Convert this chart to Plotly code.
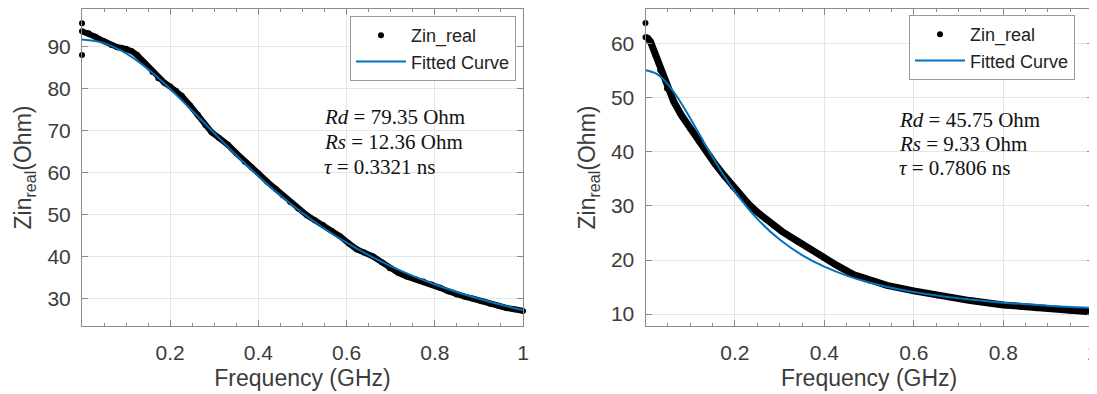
import plotly.graph_objects as go

# ---------------- data: left panel ----------------
left_freq = [0.0, 0.015, 0.03, 0.05, 0.067, 0.08, 0.09, 0.1, 0.112, 0.125, 0.143, 0.16, 0.173, 0.187,
             0.2, 0.213, 0.226, 0.245, 0.263, 0.28, 0.294, 0.31, 0.331, 0.35, 0.369, 0.385, 0.4, 0.42,
             0.44, 0.455, 0.472, 0.49, 0.51, 0.528, 0.547, 0.566, 0.585, 0.605, 0.623, 0.64, 0.66, 0.68,
             0.698, 0.717, 0.736, 0.755, 0.774, 0.793, 0.812, 0.83, 0.849, 0.868, 0.887, 0.906, 0.925,
             0.944, 0.963, 0.98, 1.0]
left_zin = [93.7, 93.2, 92.4, 91.3, 90.4, 89.9, 89.7, 89.5, 89.0, 88.0, 86.0, 84.0, 82.5, 81.4,
            80.5, 79.5, 78.3, 76.0, 73.7, 71.3, 69.6, 68.3, 66.6, 64.6, 62.6, 61.2, 59.8, 57.8,
            56.0, 54.6, 53.0, 51.4, 49.8, 48.6, 47.4, 46.1, 44.8, 43.1, 41.7, 40.9, 40.0, 38.6,
            37.2, 36.1, 35.2, 34.6, 34.0, 33.3, 32.5, 31.7, 30.9, 30.4, 29.9, 29.3, 28.7,
            28.2, 27.7, 27.4, 27.0]
left_out_freq = [0.0, 0.0]
left_out_zin = [95.6, 88.0]

left_fit_freq = [0.0, 0.05, 0.1, 0.15, 0.2, 0.25, 0.3, 0.35, 0.4, 0.45, 0.5, 0.55, 0.6, 0.65,
                 0.7, 0.75, 0.8, 0.85, 0.9, 0.95, 1.0]
left_fit_zin = [91.71, 90.86, 88.40, 84.63, 79.94, 74.74, 69.37, 64.11, 59.13, 54.53, 50.35, 46.60,
                43.27, 40.30, 37.68, 35.36, 33.31, 31.50, 29.89, 28.46, 27.18]
left_params = ["<i>Rd</i> = 79.35 Ohm", "<i>Rs</i> = 12.36 Ohm", "<i>τ</i> = 0.3321 ns"]

# ---------------- data: right panel ----------------
right_freq = [0.0, 0.005, 0.011, 0.016, 0.022, 0.033, 0.048, 0.063, 0.08, 0.1, 0.12, 0.137, 0.155,
              0.175, 0.195, 0.212, 0.23, 0.249, 0.268, 0.286, 0.305, 0.324, 0.343, 0.361, 0.38,
              0.398, 0.428, 0.465, 0.502, 0.54, 0.6, 0.651, 0.726, 0.8, 0.875, 0.949, 1.0]
right_zin = [61.2, 61.0, 60.4, 59.3, 57.9, 55.1, 51.7, 49.3, 46.8, 44.3, 41.9, 40.0, 37.8,
             35.7, 33.6, 32.0, 30.4, 28.9, 27.6, 26.4, 25.3, 24.3, 23.3, 22.4, 21.5,
             20.6, 19.0, 17.3, 16.2, 15.3, 14.3, 13.5, 12.5, 11.7, 11.1, 10.6, 10.4]
right_out_freq = [0.0]
right_out_zin = [63.8]

right_fit_freq = [0.0, 0.025, 0.05, 0.075, 0.1, 0.125, 0.15, 0.175, 0.2, 0.25, 0.3, 0.35, 0.4,
                  0.45, 0.5, 0.6, 0.7, 0.8, 0.9, 1.0]
right_fit_zin = [55.08, 54.40, 52.48, 49.63, 46.21, 42.58, 39.01, 35.67, 32.65, 27.60, 23.79,
                 20.92, 18.77, 17.12, 15.85, 14.07, 12.91, 12.12, 11.56, 11.16]
right_params = ["<i>Rd</i> = 45.75 Ohm", "<i>Rs</i> = 9.33 Ohm", "<i>τ</i> = 0.7806 ns"]

x_ticks = [0.2, 0.4, 0.6, 0.8, 1.0]
x_ticktext = ["0.2", "0.4", "0.6", "0.8", "1"]
left_yticks = [30, 40, 50, 60, 70, 80, 90]
right_yticks = [10, 20, 30, 40, 50, 60]

# ---------------- styling ----------------
PAGE_OFF = 8                     # default body margin of the html page
W, H = 1097 - PAGE_OFF + 6, 394 - PAGE_OFF   # slightly wider so the last "1" label fits in the div

def px(v):
    return (v - PAGE_OFF) / W

def py(v):
    return 1 - (v - PAGE_OFF) / H

FIT_COLOR = "#0072BD"
AXIS_COLOR = "#8a8a8a"
GRID_COLOR = "#e5e5e5"
TICK_FONT = dict(family="Liberation Sans, Arial", size=21, color="#3c3c3c")
TITLE_FONT = dict(family="Liberation Sans, Arial", size=23, color="#3c3c3c")
LEG_FONT = dict(family="Liberation Sans, Arial", size=18, color="#222222")
ANN_FONT = dict(family="Liberation Serif, Times New Roman", size=21, color="#111111")

fig = go.Figure()

panels = [
    dict(xa="x", ya="y", legend="legend", f=left_freq, z=left_zin, of=left_out_freq, oz=left_out_zin,
         ff=left_fit_freq, fz=left_fit_zin, band=6),
    dict(xa="x2", ya="y2", legend="legend2", f=right_freq, z=right_zin, of=right_out_freq, oz=right_out_zin,
         ff=right_fit_freq, fz=right_fit_zin, band=7),
]
for p in panels:
    # dense measured points form a thick band
    fig.add_trace(go.Scatter(x=p["f"], y=p["z"], mode="lines", xaxis=p["xa"], yaxis=p["ya"],
                             line=dict(color="black", width=p["band"]), showlegend=False,
                             hoverinfo="skip", legend=p["legend"]))
    fig.add_trace(go.Scatter(x=p["f"] + p["of"], y=p["z"] + p["oz"], mode="markers",
                             xaxis=p["xa"], yaxis=p["ya"], name="Zin_real",
                             marker=dict(color="black", size=6), cliponaxis=False,
                             legend=p["legend"]))
    fig.add_trace(go.Scatter(x=p["ff"], y=p["fz"], mode="lines", xaxis=p["xa"], yaxis=p["ya"],
                             name="Fitted Curve", line=dict(color=FIT_COLOR, width=2, shape="spline"),
                             legend=p["legend"]))

def xaxis_cfg(domain):
    return dict(domain=domain, range=[0, 1], tickvals=x_ticks, ticktext=x_ticktext,
                ticks="inside", ticklen=6, tickcolor=AXIS_COLOR, tickwidth=1,
                showline=True, linecolor=AXIS_COLOR, linewidth=1, mirror="allticks",
                showgrid=True, gridcolor=GRID_COLOR, gridwidth=1, zeroline=False,
                tickfont=TICK_FONT, ticklabelstandoff=8, ticklabeloverflow="allow",
                minor=dict(dtick=0.05, tick0=0, ticks="inside", ticklen=3, tickcolor=AXIS_COLOR,
                           showgrid=False),
                title=dict(text="Frequency (GHz)", font=TITLE_FONT, standoff=6),
                automargin=False)

def yaxis_cfg(domain, rng, ticks, anchor, standoff):
    return dict(domain=domain, range=rng, tickvals=ticks, anchor=anchor,
                ticks="inside", ticklen=6, tickcolor=AXIS_COLOR, tickwidth=1,
                showline=True, linecolor=AXIS_COLOR, linewidth=1, mirror="allticks",
                showgrid=True, gridcolor=GRID_COLOR, gridwidth=1, zeroline=False,
                tickfont=TICK_FONT, ticklabelstandoff=6,
                title=dict(text="Zin<sub>real</sub>(Ohm)", font=TITLE_FONT, standoff=standoff),
                automargin=False)

ydom = [py(326), py(9)]
fig.update_layout(
    width=W, height=H,
    margin=dict(l=0, r=0, t=0, b=0),
    paper_bgcolor="white", plot_bgcolor="white",
    xaxis=xaxis_cfg([px(82), px(523)]) | dict(anchor="y"),
    yaxis=yaxis_cfg(ydom, [23.4, 99.0], left_yticks, "x", 9),
    xaxis2=xaxis_cfg([px(645.5), px(1092.7)]) | dict(anchor="y2"),
    yaxis2=yaxis_cfg(ydom, [7.8, 66.4], right_yticks, "x2", 8),
    legend=dict(x=px(516), y=py(16), xanchor="right", yanchor="top", font=LEG_FONT,
                bordercolor="#9a9a9a", borderwidth=1, bgcolor="white", tracegroupgap=0,
                itemwidth=50),
    legend2=dict(x=px(1075), y=py(15), xanchor="right", yanchor="top", font=LEG_FONT,
                 bordercolor="#9a9a9a", borderwidth=1, bgcolor="white", tracegroupgap=0,
                 itemwidth=50),
    showlegend=True,
)

for xs, ys, lines in [(322, [117, 142, 166.5], left_params), (896.7, [120.5, 144.5, 168], right_params)]:
    for yy, txt in zip(ys, lines):
        fig.add_annotation(x=px(xs), y=py(yy), xref="paper", yref="paper", text=txt,
                           showarrow=False, xanchor="left", yanchor="middle", font=ANN_FONT)

fig.write_html("out.html")
